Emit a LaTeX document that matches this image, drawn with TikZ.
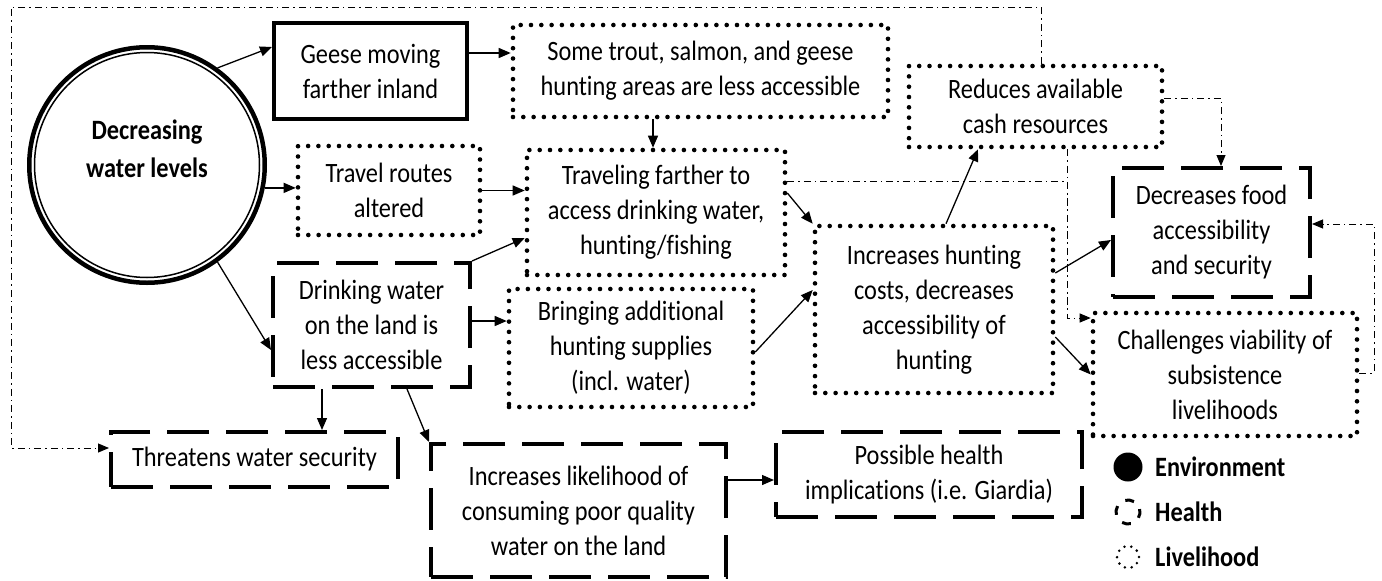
\documentclass[tikz,border=0pt]{standalone}
\usepackage{fontspec}
\setmainfont{Carlito}[FakeStretch=0.87, Ligatures=NoCommon]
\usetikzlibrary{arrows.meta}
\begin{document}
\begin{tikzpicture}[x=1pt,y=-1pt,
  every node/.style={font=\fontsize{28}{35}\selectfont, align=center, inner sep=0pt},
  boxbase/.style={rectangle, line width=4pt},
  solidbox/.style={boxbase, draw},
  dashbox/.style={boxbase, draw, dash pattern=on 42pt off 17pt},
  dotbox/.style={boxbase, draw, line width=4.6pt, line cap=round, dash pattern=on 0pt off 10.3pt},
  arr/.style={line width=1.3pt, -{Triangle[length=12pt,width=10pt]}},
  dd/.style={line width=1pt, dash pattern=on 7pt off 4pt on 1.5pt off 4pt},
  ddarr/.style={dd, -{Triangle[length=11pt,width=9pt]}},
]
\useasboundingbox (0,0) rectangle (1382,581);
\fill[white] (0,0) rectangle (1382,581);

% central circle
\node[circle, draw, line width=4.5pt, minimum size=235.5pt] (dec) at (147,165) {};
\draw[line width=1.5pt] (dec.center) circle[radius=112.5pt];
\node[font=\fontsize{28}{38}\selectfont\bfseries] (dectext) at (147,149) {Decreasing\\water levels};

% boxes
\node[solidbox, minimum width=193pt, minimum height=96pt] (geese) at (370.5,71) {Geese moving\\farther inland};
\node[dotbox, minimum width=375pt, minimum height=92pt] (trout) at (700.5,71) {Some trout, salmon, and geese\\hunting areas are less accessible};
\node[dotbox, minimum width=253pt, minimum height=81pt] (reduces) at (1035.5,106.5) {Reduces available\\cash resources};
\node[dotbox, minimum width=182pt, minimum height=89pt] (travel) at (389,190.5) {Travel routes\\altered};
\node[dotbox, minimum width=258pt, minimum height=125pt] (traveling) at (656,212.5) {Traveling farther to\\access drinking water,\\hunting/fishing};
\node[dashbox, minimum width=197pt, minimum height=124pt] (drink) at (371.5,325) {Drinking water\\on the land is\\less accessible};
\node[dotbox, minimum width=244pt, minimum height=118pt] (bringing) at (631,348) {Bringing additional\\hunting supplies\\(incl. water)};
\node[dotbox, minimum width=238pt, minimum height=167pt] (increases) at (934,309.5) {Increases hunting\\costs, decreases\\accessibility of\\hunting};
\node[dashbox, minimum width=197pt, minimum height=129pt] (decreases) at (1211.5,232.5) {Decreases food\\accessibility\\and security};
\node[dotbox, minimum width=264pt, minimum height=123pt] (challenges) at (1225,374.5) {Challenges viability of\\subsistence\\livelihoods};
\node[dashbox, minimum width=287pt, minimum height=55pt] (threatens) at (254.5,459.5) {Threatens water security};
\node[dashbox, minimum width=295pt, minimum height=133pt] (likelihood) at (578.5,510.5) {Increases likelihood of\\consuming poor quality\\water on the land};
\node[dashbox, minimum width=306pt, minimum height=85pt] (possible) at (929,474.5) {Possible health\\implications (i.e. Giardia)};

% solid arrows
\draw[arr] (dec.54.9) -- ([yshift=24pt]geese.west);
\draw[arr] ([yshift=18pt]geese.east) -- ([yshift=18pt]trout.west);
\draw[arr] ([xshift=-47.5pt]trout.south) -- ([xshift=-47.5pt]trout.south |- traveling.north);
\draw[arr] (dec.-11.8) -- (dec.-11.8 -| travel.west);
\draw[arr] (travel.east) -- (travel.east -| traveling.west);
\draw[arr] (dec.-54.6) -- ([yshift=-25pt]drink.west);
\draw[arr] (drink.north east) -- ([yshift=-25.5pt]traveling.west);
\draw[arr] ([yshift=4pt]drink.east) -- ([yshift=4pt]drink.east -| bringing.west);
\draw[arr] ([xshift=-49.5pt]drink.south) -- ([xshift=-49.5pt]drink.south |- threatens.north);
\draw[arr] ([xshift=35.5pt]drink.south) -- (likelihood.north west);
\draw[arr] ([yshift=30.5pt]likelihood.east) -- ([yshift=30.5pt]likelihood.east -| possible.west);
\draw[arr] ([yshift=-4pt]bringing.east) -- ([yshift=19.5pt]increases.west);
\draw[arr] ([yshift=19.5pt]traveling.east) -- (increases.north west);
\draw[arr] ([xshift=12pt]increases.north) -- ([xshift=-57.5pt]reduces.south);
\draw[arr] ([yshift=36.5pt]increases.east) -- ([yshift=-7.5pt]decreases.west);
\draw[arr] ([yshift=-27.5pt]increases.east) -- (challenges.west);

% dash-dot connectors
\coordinate (tl) at (11,7);
\coordinate (cj) at (1067,318);
\coordinate (cr) at (1374,224);
\coordinate (tw) at ([yshift=11.5pt]threatens.west);
\coordinate (rn) at ([xshift=5.5pt]reduces.north);
\draw[ddarr] (rn) -- (rn |- tl) -- (tl) -- (tl |- tw) -- (tw);
\draw[ddarr] ([yshift=8.5pt]reduces.east) -| ([xshift=9.5pt]decreases.north);
\draw[dd] ([xshift=31.5pt]reduces.south) -- (cj);
\draw[ddarr] ([yshift=31.5pt]traveling.east) -| (cj) -- (cj -| challenges.west);
\draw[ddarr] ([yshift=1.5pt]challenges.east) -| (cr) -- (cr -| decreases.east);

% legend
\node[circle, fill=black, minimum size=29pt] (lenv) at (1128,467) {};
\node[circle, draw, line width=3pt, minimum size=24pt, dash pattern=on 9pt off 9.8pt, rotate=60] (lhealth) at (1128,512) {};
\node[circle, draw, line width=2.8pt, minimum size=22pt, line cap=round, dash pattern=on 0pt off 6.9pt] (lliv) at (1128,557) {};
\node[anchor=west, font=\fontsize{28}{35}\selectfont\bfseries] (tenv) at (1155,467) {Environment};
\node[anchor=west, font=\fontsize{28}{35}\selectfont\bfseries] (thealth) at (1155,512) {Health};
\node[anchor=west, font=\fontsize{28}{35}\selectfont\bfseries] (tliv) at (1155,557) {Livelihood};
\end{tikzpicture}
\end{document}
